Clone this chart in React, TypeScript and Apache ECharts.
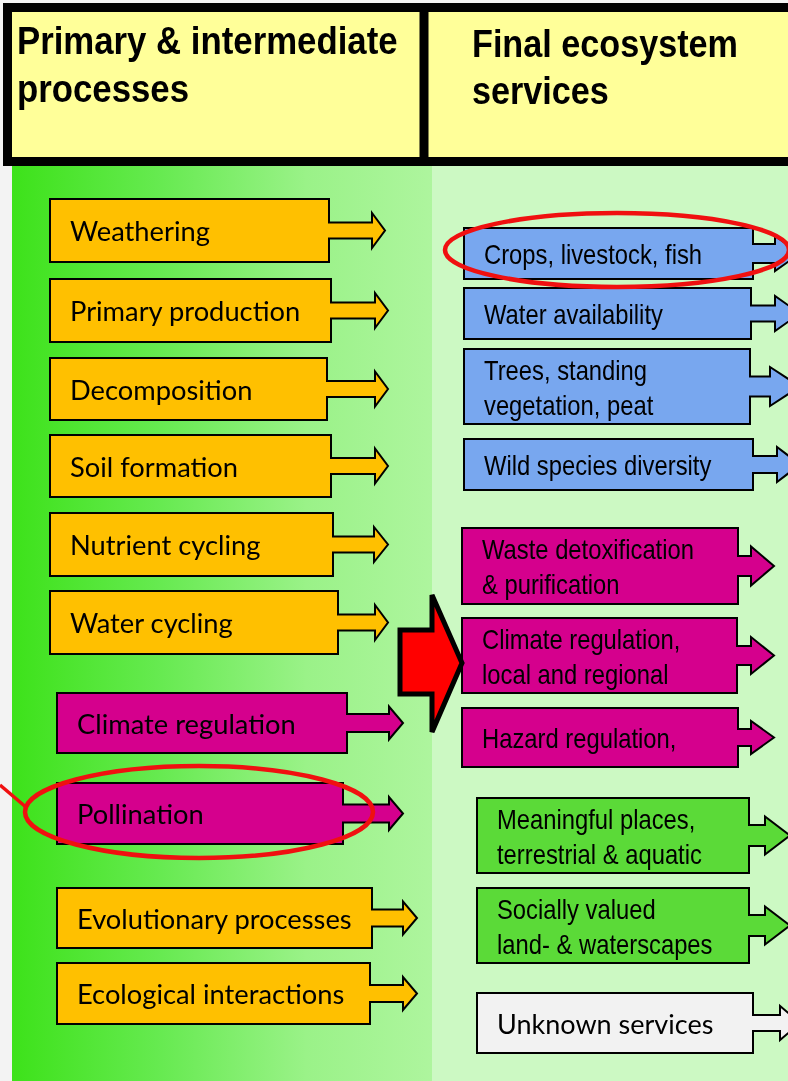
import React, { useEffect, useRef } from "react";
import * as echarts from "echarts";

// ---- Content ----
const headerLeft = ["Primary & intermediate", "processes"];
const headerRight = ["Final ecosystem", "services"];

const processLabels = [
  "Weathering",
  "Primary production",
  "Decomposition",
  "Soil formation",
  "Nutrient cycling",
  "Water cycling",
  "Climate regulation",
  "Pollination",
  "Evolutionary processes",
  "Ecological interactions",
];
const processKinds = ["o", "o", "o", "o", "o", "o", "m", "m", "o", "o"];

const serviceLabels = [
  "Crops, livestock, fish",
  "Water availability",
  "Trees, standing\nvegetation, peat",
  "Wild species diversity",
  "Waste detoxification\n& purification",
  "Climate regulation,\nlocal and regional",
  "Hazard regulation,",
  "Meaningful places,\nterrestrial & aquatic",
  "Socially valued\nland- & waterscapes",
  "Unknown services",
];
const serviceKinds = ["b", "b", "b", "b", "m", "m", "m", "g", "g", "u"];

// ---- Layout (x, top, right, bottom, headBase, tip, headHalf, shaftHalf) ----
const processBoxes = [
  [50, 199, 329, 262, 372, 385, 17.5, 8],
  [50, 279, 331, 342, 375, 388, 17.5, 8],
  [50, 358, 327, 420, 375, 388, 17.5, 8],
  [50, 435, 331, 497, 375, 388, 17.5, 8],
  [50, 513, 333, 576, 374, 388, 17.5, 8],
  [50, 591, 338, 654, 375, 388, 17.5, 8],
  [57, 693, 347, 753, 389, 403, 16.5, 9],
  [57, 783, 343, 844, 389, 403, 16.5, 9],
  [57, 888, 372, 948, 403, 417, 16.5, 8.5],
  [57, 963, 370, 1024, 403, 417, 16.5, 8.5],
];
const serviceBoxes = [
  [464, 228, 753, 279, 775, 800, 17.5, 9.5],
  [464, 288, 751, 339, 775, 800, 17.5, 8],
  [464, 349, 750, 424, 770, 800, 19.5, 10],
  [464, 439, 753, 490, 777, 800, 17.5, 8.5],
  [462, 528, 738, 604, 751, 774, 19.5, 10],
  [462, 618, 737, 693, 751, 774, 18.5, 9.5],
  [462, 708, 738, 767, 751, 774, 16.5, 8.5],
  [477, 798, 749, 873, 765, 790, 19, 10.5],
  [477, 888, 749, 963, 765, 790, 19, 10.5],
  [477, 993, 753, 1053, 780, 800, 17, 8],
];

const kindColors: Record<string, string> = {
  o: "#FFC000",
  m: "#D5008D",
  b: "#78A7EF",
  g: "#5BDA38",
  u: "#F2F2F2",
};

function arrowPoints(b: number[]) {
  const [x, y, r, bt, hb, tip, hh, sh] = b;
  const cy = (y + bt) / 2;
  return [
    [x, y],
    [r, y],
    [r, cy - sh],
    [hb, cy - sh],
    [hb, cy - hh],
    [tip, cy],
    [hb, cy + hh],
    [hb, cy + sh],
    [r, cy + sh],
    [r, bt],
    [x, bt],
  ];
}

function narrowText(text: string, x: number, y: number, size: number, scale: number, weight: string, lineHeight?: number) {
  return {
    type: "group",
    x,
    y,
    scaleX: scale,
    children: [
      {
        type: "text",
        x: 0,
        y: 0,
        style: {
          text,
          fill: "#000",
          fontFamily: "Liberation Sans, Arial, sans-serif",
          fontSize: size,
          fontWeight: weight,
          verticalAlign: "middle",
          align: "left",
          lineHeight: lineHeight || size * 1.2,
        },
      },
    ],
  };
}

export default function App() {
  const ref = useRef<HTMLDivElement>(null);
  useEffect(() => {
    if (!ref.current) return;
    const chart = echarts.init(ref.current, null, { renderer: "svg" });
    const els: any[] = [];

    // left faded strip
    els.push({ type: "rect", shape: { x: 0, y: 0, width: 788, height: 1081 }, style: { fill: "#F3F3F3" } });
    // panels
    els.push({
      type: "rect",
      shape: { x: 12, y: 160, width: 420, height: 921 },
      style: {
        fill: new echarts.graphic.LinearGradient(0, 0, 1, 0, [
          { offset: 0, color: "#3DE21A" },
          { offset: 0.35, color: "#66EA50" },
          { offset: 0.7, color: "#9AF288" },
          { offset: 1, color: "#AEF59E" },
        ]),
      },
    });
    els.push({ type: "rect", shape: { x: 432, y: 160, width: 356, height: 921 }, style: { fill: "#CCF9C3" } });

    // header
    els.push({
      type: "rect",
      shape: { x: 7.5, y: 7.5, width: 800, height: 154 },
      style: { fill: "#FFFF99", stroke: "#000", lineWidth: 9 },
    });
    els.push({ type: "line", shape: { x1: 424, y1: 4, x2: 424, y2: 166 }, style: { stroke: "#000", lineWidth: 9 } });
    els.push(narrowText(headerLeft[0], 17, 41, 38, 0.915, "bold"));
    els.push(narrowText(headerLeft[1], 17, 89, 38, 0.915, "bold"));
    els.push(narrowText(headerRight[0], 472, 44, 38, 0.9, "bold"));
    els.push(narrowText(headerRight[1], 472, 91, 38, 0.9, "bold"));

    // process boxes
    processLabels.forEach((label, i) => {
      const b = processBoxes[i];
      els.push({
        type: "polygon",
        shape: { points: arrowPoints(b) },
        style: { fill: kindColors[processKinds[i]], stroke: "#000", lineWidth: 2 },
      });
      els.push({
        type: "text",
        x: b[0] + 20,
        y: (b[1] + b[3]) / 2,
        style: {
          text: label,
          fill: "#000",
          fontFamily: "Lato, sans-serif",
          fontSize: 27.3,
          verticalAlign: "middle",
        },
      });
    });

    // service boxes
    serviceLabels.forEach((label, i) => {
      const b = serviceBoxes[i];
      els.push({
        type: "polygon",
        shape: { points: arrowPoints(b) },
        style: { fill: kindColors[serviceKinds[i]], stroke: "#000", lineWidth: 2 },
      });
      const cy = (b[1] + b[3]) / 2;
      if (serviceKinds[i] === "u") {
        els.push({
          type: "text",
          x: b[0] + 20,
          y: cy,
          style: { text: label, fill: "#000", fontFamily: "Lato, sans-serif", fontSize: 27, verticalAlign: "middle" },
        });
      } else {
        els.push(narrowText(label, b[0] + 20, cy + 1, 28, 0.85, "normal", 35));
      }
    });

    // big red arrow
    els.push({
      type: "polygon",
      shape: {
        points: [
          [400, 630],
          [432, 630],
          [432, 595],
          [462, 663],
          [432, 732],
          [432, 694],
          [400, 694],
        ],
      },
      style: { fill: "#FF0000", stroke: "#000", lineWidth: 5, lineJoin: "miter" },
    });

    // red highlight ellipses
    els.push({
      type: "ellipse",
      shape: { cx: 617, cy: 250, rx: 172, ry: 37 },
      style: { fill: "none", stroke: "#F01010", lineWidth: 4.5 },
    });
    els.push({
      type: "ellipse",
      shape: { cx: 199, cy: 812, rx: 174, ry: 46 },
      style: { fill: "none", stroke: "#F01010", lineWidth: 4.5 },
    });
    els.push({ type: "line", shape: { x1: 0, y1: 785, x2: 27, y2: 808 }, style: { stroke: "#F01010", lineWidth: 3.5 } });

    chart.setOption({ animation: false, graphic: { elements: els } });
    return () => chart.dispose();
  }, []);
  return <div ref={ref} style={{ position: "fixed", left: 0, top: 0, width: 788, height: 1081 }} />;
}
